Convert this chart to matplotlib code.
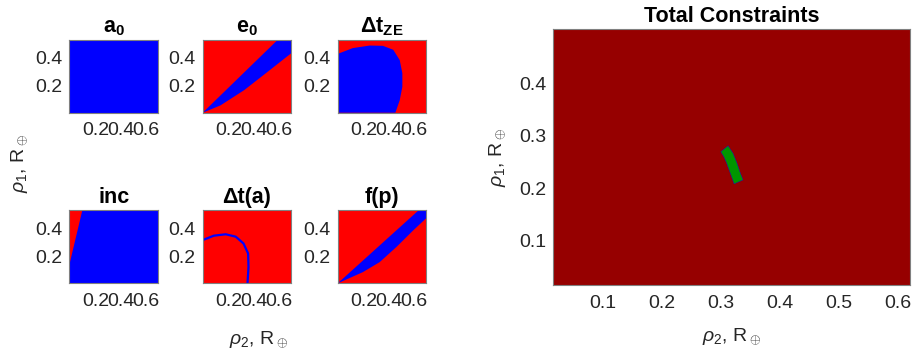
import numpy as np
import matplotlib.pyplot as plt

plt.rcParams['font.family'] = ['Liberation Sans', 'DejaVu Sans']
plt.rcParams['mathtext.fontset'] = 'custom'
plt.rcParams['mathtext.rm'] = 'Liberation Sans'
plt.rcParams['mathtext.it'] = 'Liberation Sans:italic'
plt.rcParams['mathtext.bf'] = 'Liberation Sans:bold'

# Axis ranges / ticks (rho2 on x, rho1 on y, in Earth radii)
small_xlim = (-0.01, 0.70)
small_ylim = (0.01, 0.525)
small_xticks = [0.2, 0.4, 0.6]
small_yticks = [0.2, 0.4]
big_xlim = (0.0153, 0.621)
big_ylim = (0.0156, 0.5035)
big_xticks = [0.1, 0.2, 0.3, 0.4, 0.5, 0.6]
big_yticks = [0.1, 0.2, 0.3, 0.4]

# Constraint regions
e0_x = [-0.01, 0.592, 0.70, 0.70, 0.511, 0.322, 0.132]
e0_y = [0.01, 0.525, 0.525, 0.430, 0.299, 0.169, 0.0615]

dtze_x = [-0.01, -0.01, 0.111, 0.246, 0.352, 0.435, 0.487, 0.508, 0.508, 0.487, 0.452]
dtze_y = [0.01, 0.425, 0.466, 0.484, 0.482, 0.454, 0.381, 0.288, 0.193, 0.098, 0.01]

inc_x = [-0.01, 0.094, -0.01]
inc_y = [0.525, 0.525, 0.14]

dta_x = [-0.01, 0.079, 0.174, 0.255, 0.317, 0.354, 0.357, 0.349]
dta_y = [0.315, 0.346, 0.356, 0.339, 0.291, 0.220, 0.124, 0.01]

fp_x = [-0.01, 0.638, 0.70, 0.70, 0.598, 0.462, 0.327, 0.192]
fp_y = [0.01, 0.525, 0.525, 0.47, 0.386, 0.2675, 0.160, 0.089]

# allowed band of all constraints together (left edge down, right edge up)
total_x = [0.3000, 0.3051, 0.3096, 0.3141, 0.3186, 0.3226,
           0.3378, 0.3333, 0.3277, 0.3209, 0.3124]
total_y = [0.2697, 0.2602, 0.2488, 0.2349, 0.2210, 0.2083,
           0.2159, 0.2286, 0.2476, 0.2665, 0.2811]

RED = '#ff0000'
BLUE = '#0000ff'
DARKRED = '#960000'
GREEN = '#009600'
TICKC = '#262626'
EDGE = '#808080'

fig = plt.figure(figsize=(9.16, 3.56), dpi=100)

cols = [0.0757, 0.2213, 0.3687]
rows = [0.6834, 0.2042]
w, h = 0.0967, 0.205


def style(ax, xlim, ylim, xt, yt, pad_x=7, pad_y=5):
    ax.set_xlim(xlim)
    ax.set_ylim(ylim)
    ax.set_xticks(xt)
    ax.set_yticks(yt)
    ax.set_xticklabels([f'{v:g}' for v in xt])
    ax.set_yticklabels([f'{v:g}' for v in yt])
    ax.tick_params(length=0, labelsize=14, colors=TICKC)
    ax.tick_params(axis='x', pad=pad_x)
    ax.tick_params(axis='y', pad=pad_y)
    for s in ax.spines.values():
        s.set_color(EDGE)
        s.set_linewidth(0.8)


def small(col, row, title, bg):
    ax = fig.add_axes([cols[col], rows[row], w, h])
    ax.set_facecolor(bg)
    style(ax, small_xlim, small_ylim, small_xticks, small_yticks)
    ax.set_title(title, fontsize=15.5, fontweight='bold', pad=5)
    return ax


ax = small(0, 0, r'a$_\mathbf{0}$', BLUE)

ax = small(1, 0, r'e$_\mathbf{0}$', RED)
ax.fill(e0_x, e0_y, color=BLUE, lw=0)

ax = small(2, 0, r'Δt$_\mathbf{ZE}$', RED)
ax.fill(dtze_x, dtze_y, color=BLUE, lw=0)

ax = small(0, 1, 'inc', BLUE)
ax.fill(inc_x, inc_y, color=RED, lw=0)

ax = small(1, 1, 'Δt(a)', RED)
ax.plot(dta_x, dta_y, color=BLUE, lw=1.6)

ax = small(2, 1, 'f(p)', RED)
ax.fill(fp_x, fp_y, color=BLUE, lw=0)

fig.text(0.022, 0.54, r'$\rho_1$, R$_\oplus$', rotation=90, fontsize=14,
         color=TICKC, ha='center', va='center')
fig.text(0.282, 0.045, r'$\rho_2$, R$_\oplus$', fontsize=14,
         color=TICKC, ha='center', va='center')

# Total constraints
big = fig.add_axes([0.6037, 0.1994, 0.3897, 0.719])
big.set_facecolor(DARKRED)
style(big, big_xlim, big_ylim, big_xticks, big_yticks)
big.fill(total_x, total_y, facecolor=GREEN, edgecolor=BLUE, lw=0.25)
big.set_title('Total Constraints', fontsize=15.5, fontweight='bold', pad=5)
big.set_xlabel(r'$\rho_2$, R$_\oplus$', fontsize=14, color=TICKC)
big.set_ylabel(r'$\rho_1$, R$_\oplus$', fontsize=14, color=TICKC)
big.xaxis.set_label_coords(0.5, -0.16)
big.yaxis.set_label_coords(-0.125, 0.5)

fig.savefig('out.png', dpi=100)
